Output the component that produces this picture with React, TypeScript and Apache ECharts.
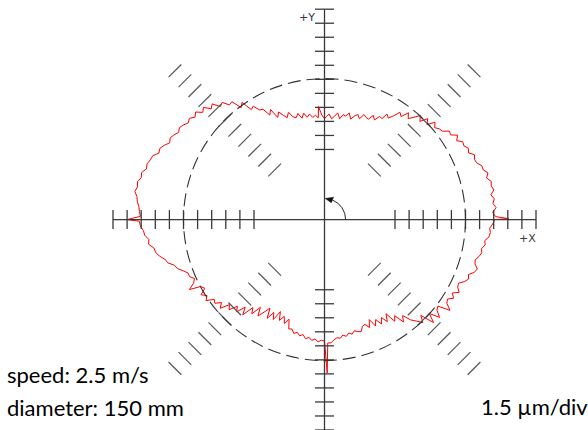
import React, { useEffect, useRef } from "react";
import * as echarts from "echarts";

// Scale: axis extent and tick positions, in divisions
const AXIS_EXTENT = 15;
const AXIS_TICKS = [5, 6, 7, 8, 9, 10, 11, 12, 13, 14, 15];
const DIAGONAL_ANGLES = [45, 135, 225, 315];
const NOMINAL_DIV = 10; // reference circle radius (divisions)
const UM_PER_DIV = 1.5;
const ROTATION_ARC_DIV = 1.5;

// Trace: [angle in degrees (CCW from +X), radial deviation in µm]
const TRACE_Q1 = [
  [0, 3.1], [0.3, 4.6], [1, 3.2], [2.5, 2.9], [4, 3.3], [5.5, 3.0], [7, 3.2], [8.5, 2.9], [10, 3.3],
  [11.5, 3.1], [13, 3.2], [14.5, 2.8], [16, 3.1], [17.5, 2.7], [19, 2.7], [20.5, 2.3], [22, 2.2],
  [23.5, 2.4], [25, 1.9], [26.5, 2.1], [28, 1.8], [29.5, 1.9], [31, 1.4], [32.5, 1.8], [34, 1.2],
  [35.5, 1.3], [37, 0.7], [38.5, 0.6], [40, 0.3], [41.5, 0.7], [43, -0.1], [44.5, 0.4], [46, -0.4],
  [47.5, 0.1], [49, -0.5], [50.5, -1.0], [52, -0.5], [53.5, -1.3], [55, -1.0], [56.5, -1.7], [58, -2.2],
  [59.5, -1.9], [60.5, -2.6], [62, -2.5], [63.5, -3.1], [65, -2.7], [66.5, -3.3], [68, -3.2], [69.5, -3.0],
  [71, -3.6], [72.5, -3.2], [74, -3.5], [75.5, -3.9], [77, -3.3], [78.5, -3.7], [80, -3.6], [81.5, -4.1],
  [83, -3.5], [84.5, -3.9], [86, -4.2], [87.5, -3.7], [89, -4.0],
];
const TRACE_Q2 = [
  [90, -4.2], [91.5, -3.8], [93, -2.9], [93.5, -4.1], [95, -3.8], [96.5, -4.0], [98, -3.6], [99.5, -3.9],
  [101, -3.4], [102.5, -3.9], [104, -3.3], [105.5, -3.7], [107, -3.5], [108.5, -2.9], [110, -3.4],
  [111.5, -3.0], [113, -2.5], [114.5, -3.0], [116, -1.9], [117.5, -2.4], [119, -1.5], [120.5, -1.4],
  [122, -0.7], [123.5, -0.9], [125, 0.3], [126.5, -0.1], [128, 1.0], [129.5, 0.9], [131, 1.6],
  [132.5, 1.4], [134, 2.2], [135.5, 1.9], [137, 2.6], [138.5, 2.3], [140, 2.9], [141.5, 2.6], [143, 3.0],
  [144.5, 2.8], [146, 3.1], [147.5, 3.3], [149, 3.1], [150.5, 3.4], [152, 3.6], [153.5, 3.4], [155, 3.8],
  [156.5, 4.1], [158, 4.0], [159.5, 4.5], [161, 4.6], [162.5, 4.8], [164, 4.7], [165.5, 5.1], [167, 5.0],
  [168.5, 5.3], [170, 5.2], [171.5, 5.4], [173, 5.1], [174.5, 5.0], [176, 4.8], [177.5, 4.7], [179, 4.6],
];
const TRACE_Q3 = [
  [180, 6.0], [180.5, 4.7], [182, 4.6], [183.5, 4.3], [185, 4.2], [186.5, 3.8], [188, 3.9], [189.5, 3.4],
  [191, 3.3], [192.5, 3.0], [194, 2.5], [195.5, 2.3], [197, 1.7], [198.5, 1.5], [200, 1.0], [201.5, 0.6],
  [203, 0.6], [204.5, 0.2], [206, 0.5], [207.5, 1.2], [208.5, 0.0], [210, -0.3], [211.5, 0.4], [213, -0.1],
  [214.5, 0.3], [216, -0.5], [217.5, -0.3], [219, -0.9], [220.5, -0.4], [222, -1.4], [223.5, -1.0],
  [225, -1.9], [226.5, -1.4], [228, -2.4], [229.5, -1.6], [231, -2.9], [232.5, -2.3], [234, -3.4],
  [235.5, -2.5], [237, -3.2], [238.5, -3.9], [240, -2.8], [241.5, -3.7], [243, -3.0], [244.5, -4.1],
  [246, -3.2], [247.5, -3.8], [249, -3.1], [250.5, -3.7], [252, -2.7], [253.5, -2.8], [255, -2.4],
  [256.5, -2.6], [258, -2.3], [259.5, -2.5], [261, -2.1], [262.5, -2.3], [264, -2.0], [265.5, -2.2],
  [267, -1.9], [268.5, -2.1],
];
const TRACE_Q4 = [
  [270, -2.0], [271, 1.4], [271.5, -1.8], [273, -1.8], [274.5, -2.1], [276, -2.3], [277.5, -2.2],
  [279, -2.5], [280.5, -2.3], [282, -2.6], [283.5, -2.4], [285, -2.7], [286.5, -2.5], [288, -2.4],
  [289.5, -2.9], [291, -3.0], [292.5, -2.5], [294, -3.3], [295.5, -2.4], [297, -3.0], [298.5, -2.3],
  [300, -2.9], [301.5, -2.2], [303, -3.0], [304.5, -1.8], [306, -2.3], [307.5, -1.2], [309, -1.8],
  [310.5, -0.9], [312, -0.4], [313.5, 0.2], [315, -0.5], [316.5, 1.0], [318, 0.0], [319.5, 1.1],
  [321, 0.4], [322.5, 0.2], [324, 1.5], [325.5, 0.8], [327, 0.6], [328.5, 1.1], [330, 0.7], [331.5, 1.3],
  [333, 0.9], [334.5, 0.8], [336, 1.3], [337.5, 1.6], [339, 1.4], [340.5, 1.9], [342, 2.1], [343.5, 1.7],
  [345, 1.6], [346.5, 1.9], [348, 2.1], [349.5, 2.0], [351, 2.3], [352.5, 2.2], [354, 2.6], [355.5, 2.7],
  [357, 2.6], [358.5, 2.9], [360, 3.1],
];

const LABEL_X = "+X";
const LABEL_Y = "+Y";
const LABEL_SPEED = "speed: 2.5 m/s";
const LABEL_DIAMETER = "diameter: 150 mm";
const LABEL_SCALE = "1.5 µm/div";

const AXIS_COLOR = "#3a3a3a";
const HATCH_COLOR = "#555555";
const TRACE_COLOR = "#ff0000";

export default function App() {
  const ref = useRef<HTMLDivElement>(null);

  useEffect(() => {
    if (!ref.current) return;
    const chart = echarts.init(ref.current, undefined, { renderer: "svg" });

    const trace = [...TRACE_Q1, ...TRACE_Q2, ...TRACE_Q3, ...TRACE_Q4].map(([a, dev]) => {
      const r = NOMINAL_DIV + dev / UM_PER_DIV;
      const t = (a * Math.PI) / 180;
      return [r * Math.cos(t), r * Math.sin(t)];
    });

    const TICK_HALF = 9.5;
    const HATCH_HALF = 9;

    const renderFrame = (_params: any, api: any) => {
      const c = api.coord([0, 0]);
      const unit = api.size([1, 0])[0];
      const children: any[] = [];
      const axisStyle = { stroke: AXIS_COLOR, lineWidth: 1.3 };
      const hatchStyle = { stroke: HATCH_COLOR, lineWidth: 1.2 };
      const seg = (x1: number, y1: number, x2: number, y2: number, style: any) =>
        children.push({ type: "line", shape: { x1, y1, x2, y2 }, style });

      const l = api.coord([-AXIS_EXTENT, 0]);
      const r = api.coord([AXIS_EXTENT, 0]);
      seg(l[0], l[1], r[0], r[1], axisStyle);
      const t = api.coord([0, AXIS_EXTENT]);
      const b = api.coord([0, -AXIS_EXTENT]);
      seg(t[0], t[1], b[0], b[1], axisStyle);

      AXIS_TICKS.forEach((k) => {
        [1, -1].forEach((s) => {
          const px = api.coord([s * k, 0]);
          seg(px[0], px[1] - TICK_HALF, px[0], px[1] + TICK_HALF, axisStyle);
          const py = api.coord([0, s * k]);
          seg(py[0] - TICK_HALF, py[1], py[0] + TICK_HALF, py[1], axisStyle);
        });
      });

      DIAGONAL_ANGLES.forEach((a) => {
        const rad = (a * Math.PI) / 180;
        const perp = [Math.sin(rad), Math.cos(rad)];
        AXIS_TICKS.forEach((k) => {
          const p = api.coord([k * Math.cos(rad), k * Math.sin(rad)]);
          seg(
            p[0] - HATCH_HALF * perp[0],
            p[1] - HATCH_HALF * perp[1],
            p[0] + HATCH_HALF * perp[0],
            p[1] + HATCH_HALF * perp[1],
            hatchStyle
          );
        });
      });

      children.push({
        type: "circle",
        shape: { cx: c[0], cy: c[1], r: NOMINAL_DIV * unit },
        style: { fill: "none", stroke: "#333", lineWidth: 1.1, lineDash: [13, 6] },
      });

      const arcR = ROTATION_ARC_DIV * unit;
      const d2r = Math.PI / 180;
      children.push({
        type: "arc",
        shape: { cx: c[0], cy: c[1], r: arcR, startAngle: -68 * d2r, endAngle: 0, clockwise: true },
        style: { fill: "none", stroke: "#222", lineWidth: 1 },
      });
      const tip = [c[0] + arcR * Math.cos(-88 * d2r), c[1] + arcR * Math.sin(-88 * d2r)];
      const b1 = [c[0] + (arcR - 3) * Math.cos(-68 * d2r), c[1] + (arcR - 3) * Math.sin(-68 * d2r)];
      const b2 = [c[0] + (arcR + 3) * Math.cos(-68 * d2r), c[1] + (arcR + 3) * Math.sin(-68 * d2r)];
      children.push({
        type: "polygon",
        shape: { points: [tip, b1, b2] },
        style: { fill: "#111", stroke: "#111", lineWidth: 0.5 },
      });

      return { type: "group", children };
    };

    const textStyle = (text: string, font: string, fill: string, align: string) => ({
      text,
      font,
      fill,
      align,
      verticalAlign: "middle",
      textAlign: align,
      textVerticalAlign: "middle",
    });

    chart.setOption({
      animation: false,
      backgroundColor: "#ffffff",
      grid: { left: 113, top: 9.2, width: 423, height: 423 },
      xAxis: { type: "value", min: -AXIS_EXTENT, max: AXIS_EXTENT, show: false },
      yAxis: { type: "value", min: -AXIS_EXTENT, max: AXIS_EXTENT, show: false },
      series: [
        {
          type: "line",
          data: trace,
          showSymbol: false,
          symbol: "none",
          clip: false,
          silent: true,
          lineStyle: { color: TRACE_COLOR, width: 1 },
          z: 2,
        },
        {
          type: "custom",
          data: [[0, 0]],
          renderItem: renderFrame,
          silent: true,
          clip: false,
          z: 3,
        },
      ],
      graphic: [
        { type: "text", x: 315, y: 17, style: textStyle(LABEL_Y, "11px 'DejaVu Sans'", "#334", "right") },
        { type: "text", x: 519, y: 238, style: textStyle(LABEL_X, "11px 'DejaVu Sans'", "#334", "left") },
        { type: "text", x: 7, y: 374.5, style: textStyle(LABEL_SPEED, "22px Lato", "#000", "left") },
        { type: "text", x: 7, y: 407, style: textStyle(LABEL_DIAMETER, "22px Lato", "#000", "left") },
        { type: "text", x: 481, y: 406.5, style: textStyle(LABEL_SCALE, "22px Lato", "#000", "left") },
      ],
    });

    return () => chart.dispose();
  }, []);

  return (
    <div
      ref={ref}
      style={{ position: "fixed", left: 0, top: 0, width: 588, height: 430, background: "#fff" }}
    />
  );
}
